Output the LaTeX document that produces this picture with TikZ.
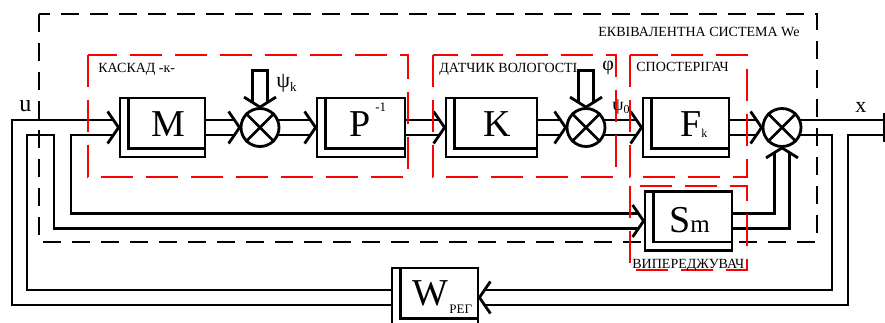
\documentclass[tikz,border=0pt]{standalone}
\usepackage{fontspec}
\setmainfont{Liberation Serif}
\usetikzlibrary{calc}
\tikzset{
  blk/.style={draw,minimum height=59pt,inner sep=0pt},
  sumj/.style={draw,circle,minimum size=38pt,inner sep=0pt},
  redframe/.style={draw=red,dash pattern=on 32pt off 13pt},
  blkframe/.style={draw=black,dash pattern=on 18pt off 11pt},
  caption/.style={font=\fontsize{14}{16}\selectfont,inner sep=0pt,anchor=base west},
  big/.style={font=\fontsize{38}{40}\selectfont,inner sep=0pt,anchor=base west},
  small/.style={font=\fontsize{13}{14}\selectfont,inner sep=0pt,anchor=base west},
  arrR/.pic={\draw (-11,-16) -- (0,0) -- (-11,16);},
  arrL/.pic={\draw (11,-16) -- (0,0) -- (11,16);},
  arrU/.pic={\draw (-16,10) -- (0,0) -- (16,10);},
  arrD/.pic={\draw (-16,-10) -- (0,0) -- (16,-10);},
}
\begin{document}
\begin{tikzpicture}[x=1pt,y=-1pt,line width=2.8pt,line join=miter]
\useasboundingbox (0,0) rectangle (885,323);
\clip (0,0) rectangle (885,323);

% blocks (outer frame is the node, inner frame drawn as an offset corner)
\node[blk,minimum width=85pt] (M) at (162.5,127.5) {};
\node[blk,minimum width=88pt] (P) at (361,127.5) {};
\node[blk,minimum width=91pt] (K) at (491.5,127.5) {};
\node[blk,minimum width=86pt] (F) at (686,127.5) {};
\node[blk,minimum width=87pt] (S) at (688.5,221) {};
\node[blk,minimum width=86pt] (W) at (435,297.5) {};
\foreach \b in {M,P,K,F,S,W}
  \draw ($(\b.north west)+(10,0)$) |- ($(\b.south east)+(0,-10)$);

% summing junctions
\node[sumj] (s1) at (260,127.5) {};
\node[sumj] (s2) at (586,127.5) {};
\node[sumj] (s3) at (782,127.5) {};
\foreach \c in {s1,s2,s3}
  \draw (\c.north west) -- (\c.south east) (\c.north east) -- (\c.south west);

% input pipe u and the branch to the predictor
\draw ($(W.west)+(0,7.5)$) -| (12,120) -- ($(M.west)+(-5,-7.5)$);
\draw ($(W.west)+(0,-7.5)$) -| (27,135) -| (54,228.5) -- ($(S.west)+(-5,7.5)$);
\draw ($(M.west)+(-5,7.5)$) -| (71,213.5) -- ($(S.west)+(-5,-7.5)$);
\pic at (M.west) {arrR};
\pic at (S.west) {arrR};

% forward path
\foreach \a/\b in {M.east/s1.west, P.east/K.west, K.east/s2.west, F.east/s3.west}{
  \draw ($(\a)+(0,-7.5)$) -- ($(\b)+(-5,-7.5)$) ($(\a)+(0,7.5)$) -- ($(\b)+(-5,7.5)$);
  \pic at (\b) {arrR};
}
\foreach \a/\b in {s1/P.west, s2/F.west}{
  \draw ($(\a)+(17.5,-7.5)$) -- ($(\b)+(-5,-7.5)$) ($(\a)+(17.5,7.5)$) -- ($(\b)+(-5,7.5)$);
  \pic at (\b) {arrR};
}

% disturbance inputs from above
\foreach \c in {s1,s2}{
  \draw ($(\c.north)+(-7.5,-5)$) |- ($(\c.north)+(0,-36.5)$) -| ($(\c.north)+(7.5,-5)$);
  \pic at (\c.north) {arrD};
}

% predictor output into the last junction
\draw ($(S.east)+(0,-7.5)$) -| ($(s3.south)+(-7.5,5)$);
\draw ($(S.east)+(0,7.5)$) -| ($(s3.south)+(7.5,5)$);
\pic at (s3.south) {arrU};

% output x and feedback to the controller
\coordinate (xend) at (884,127.5);
\draw ($(s3)+(17.5,-7.5)$) -- ($(xend)+(0,-7.5)$);
\draw ($(s3)+(17.5,7.5)$) -| (832,290) -- ($(W.east)+(5,-7.5)$);
\draw ($(xend)+(0,7.5)$) -| (848,305) -- ($(W.east)+(5,7.5)$);
\draw ($(xend)+(0,-14.5)$) -- ($(xend)+(0,14.5)$);
\pic at (W.east) {arrL};

% subsystem frames
\draw[blkframe] (39,14) rectangle (817,242);
\draw[redframe] (88,55) rectangle (408,177);
\draw[redframe] (433,55) rectangle (616,177);
\draw[redframe] (630,55) rectangle (747,177);
\draw[redframe] (630,186) rectangle (747,270);

% captions
\node[caption] (tEq) at (597,37) {ЕКВІВАЛЕНТНА СИСТЕМА We};
\node[caption] (tCas) at (97,73) {КАСКАД -к-};
\node[caption] (tSen) at (438,73) {ДАТЧИК ВОЛОГОСТІ};
\node[caption] (tObs) at (635,72) {СПОСТЕРІГАЧ};
\node[caption] (tPre) at (631,268) {ВИПЕРЕДЖУВАЧ};

% signal labels
\node[inner sep=0pt,anchor=base west,font=\fontsize{24}{24}\selectfont] (tu) at (18,112) {u};
\node[inner sep=0pt,anchor=base west,font=\fontsize{22}{22}\selectfont] (tx) at (854,113) {x};
\node[inner sep=0pt,anchor=base west] (tpk) at (275,88)
  {\fontsize{22}{22}\selectfont ψ\raisebox{-4pt}{\fontsize{13}{13}\selectfont k}};
\node[inner sep=0pt,anchor=base west,font=\fontsize{20}{20}\selectfont] (tphi) at (601,71) {φ};
\node[inner sep=0pt,anchor=base west] (tp0) at (611,111)
  {\fontsize{18}{18}\selectfont ψ\raisebox{-3pt}{\fontsize{12}{12}\selectfont 0}};

% block labels
\node[big] (lM) at (150,137) {M};
\node[big] (lP) at (348,137) {P};
\node[small] (lPe) at (374,112) {-1};
\node[big] (lK) at (482,137) {K};
\node[big] (lF) at (679,137) {F};
\node[inner sep=0pt,anchor=base west,font=\fontsize{12}{12}\selectfont] (lFk) at (700,138) {k};
\node[big] (lS) at (668,232) {S};
\node[inner sep=0pt,anchor=base west,font=\fontsize{25}{25}\selectfont] (lSm) at (689,232) {m};
\node[big] (lW) at (411,305) {W};
\node[small] (lWr) at (448,313) {РЕГ};
\end{tikzpicture}
\end{document}
